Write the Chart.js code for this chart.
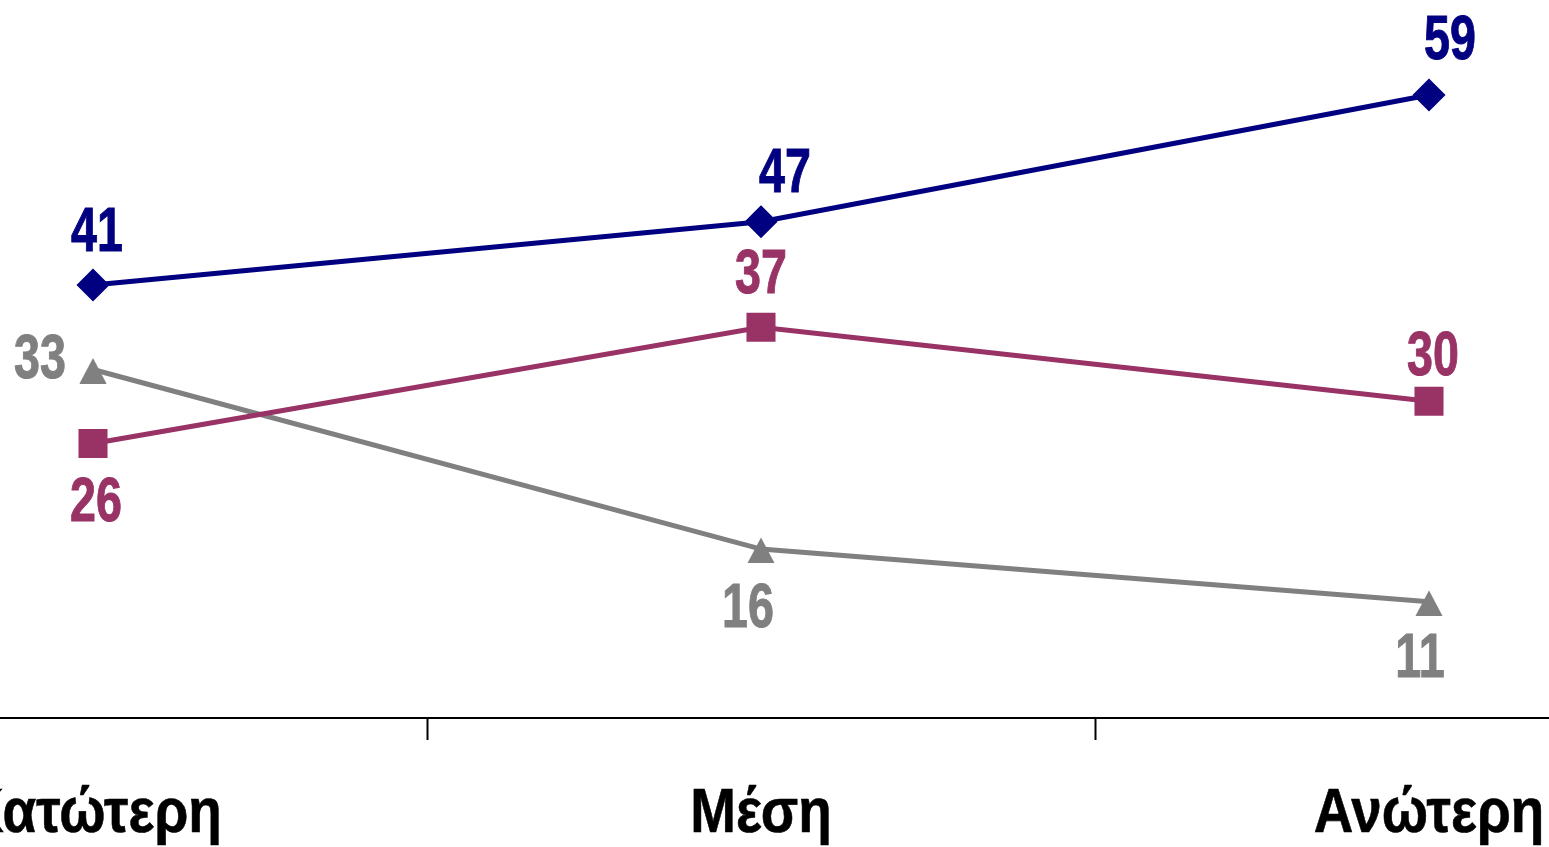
<!DOCTYPE html>
<html>
<head>
<meta charset="utf-8">
<script src="https://cdn.jsdelivr.net/npm/chart.js@4"></script>
<style>
  html, body { margin: 0; padding: 0; background: #fff; overflow: hidden; }
  #wrap { position: absolute; left: -241px; top: 0; width: 2004px; height: 847px; }
</style>
</head>
<body>
<div id="wrap"><canvas id="chart" width="2004" height="847"></canvas></div>
<script>
const categories = ['Κατώτερη', 'Μέση', 'Ανώτερη'];
const navyValues = [41, 47, 59];
const plumValues = [26, 37, 30];
const greyValues = [33, 16, 11];

// where each value label sits relative to its point [dx, dy]
const navyLabelOffsets = [[4, -54], [24, -50], [21, -56]];
const plumLabelOffsets = [[3, 57], [0, -55], [4, -47]];
const greyLabelOffsets = [[-53, -12], [-13, 58], [-9, 55]];

const BOLD = '"Liberation Sans", Arial, sans-serif';

// triangle marker sits a little low on its point, like the original
function triangleMarker(color) {
  const c = document.createElement('canvas');
  c.width = 28;
  c.height = 28;
  const g = c.getContext('2d');
  g.fillStyle = color;
  g.beginPath();
  g.moveTo(14, 2.5);
  g.lineTo(27.5, 28);
  g.lineTo(0.5, 28);
  g.closePath();
  g.fill();
  return c;
}

// narrow bold text: squeeze a regular bold face sideways
function squeezedText(ctx, text, x, y, squeeze) {
  ctx.save();
  ctx.translate(x, y);
  ctx.scale(squeeze, 1);
  ctx.fillText(text, 0, 0);
  ctx.strokeText(text, 0, 0);
  ctx.restore();
}

const valueLabels = {
  id: 'valueLabels',
  afterDatasetsDraw(chart) {
    const ctx = chart.ctx;
    ctx.save();
    ctx.font = 'bold 63px ' + BOLD;
    ctx.textAlign = 'center';
    ctx.textBaseline = 'middle';
    ctx.lineWidth = 1;
    chart.data.datasets.forEach((ds, i) => {
      const meta = chart.getDatasetMeta(i);
      ctx.fillStyle = ds.borderColor;
      ctx.strokeStyle = ds.borderColor;
      meta.data.forEach((pt, j) => {
        const off = ds.labelOffsets[j];
        squeezedText(ctx, String(ds.data[j]), pt.x + off[0], pt.y + off[1] + 3, 0.74);
      });
    });
    ctx.restore();
  }
};

// category names under the axis, at the scale's own tick positions
const categoryLabels = {
  id: 'categoryLabels',
  afterDraw(chart) {
    const ctx = chart.ctx;
    const x = chart.scales.x;
    ctx.save();
    ctx.font = 'bold 63px ' + BOLD;
    ctx.textAlign = 'center';
    ctx.textBaseline = 'alphabetic';
    ctx.fillStyle = '#000';
    ctx.strokeStyle = '#000';
    ctx.lineWidth = 0.6;
    x.ticks.forEach((t, i) => {
      squeezedText(ctx, x.getLabelForValue(t.value), x.getPixelForTick(i), x.bottom - 15, 0.87);
    });
    ctx.restore();
  }
};

new Chart(document.getElementById('chart'), {
  type: 'line',
  data: {
    labels: categories,
    datasets: [
      {
        label: 'navy',
        data: navyValues,
        borderColor: '#000080',
        backgroundColor: '#000080',
        borderWidth: 5,
        pointStyle: 'rectRot',
        pointRadius: 13,
        labelOffsets: navyLabelOffsets
      },
      {
        label: 'plum',
        data: plumValues,
        borderColor: '#993366',
        backgroundColor: '#993366',
        borderWidth: 5,
        pointStyle: 'rect',
        pointRadius: 17,
        labelOffsets: plumLabelOffsets
      },
      {
        label: 'grey',
        data: greyValues,
        borderColor: '#808080',
        backgroundColor: '#808080',
        borderWidth: 5,
        pointStyle: triangleMarker('#808080'),
        labelOffsets: greyLabelOffsets
      }
    ]
  },
  options: {
    responsive: false,
    animation: false,
    devicePixelRatio: 1,
    layout: { autoPadding: false, padding: { top: 31.6, left: 0, right: 0, bottom: 0 } },
    elements: { line: { tension: 0 }, point: { borderWidth: 0 } },
    plugins: { legend: { display: false }, tooltip: { enabled: false } },
    scales: {
      x: {
        offset: true,
        grid: {
          offset: true,
          drawOnChartArea: false,
          drawTicks: true,
          tickLength: 22,
          tickWidth: 2,
          tickColor: '#000'
        },
        border: { display: true, color: '#000', width: 2 },
        ticks: { display: false },
        afterFit(scale) { scale.height = 129; }
      },
      y: {
        display: false,
        min: 0,
        max: 65
      }
    }
  },
  plugins: [valueLabels, categoryLabels]
});
</script>
</body>
</html>
